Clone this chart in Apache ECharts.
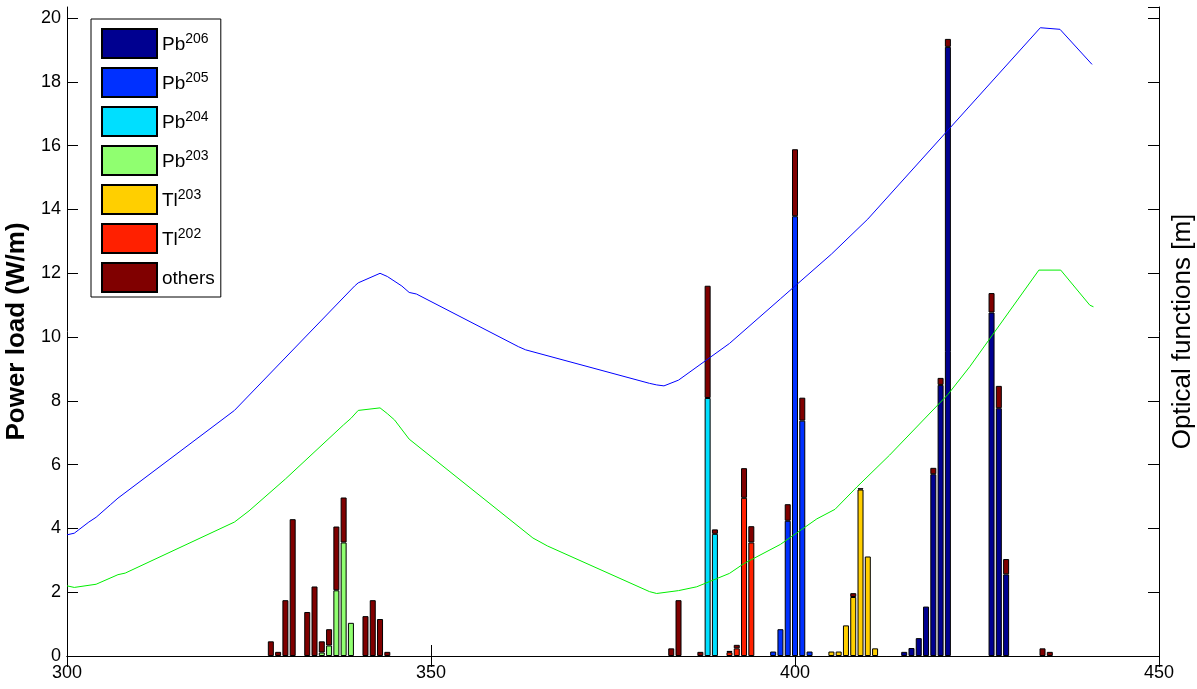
<!DOCTYPE html>
<html>
<head>
<meta charset="utf-8">
<script src="https://cdn.jsdelivr.net/npm/echarts@6/dist/echarts.min.js"></script>
<style>
  html, body { margin: 0; padding: 0; background: #fff; }
  #chart { width: 1197px; height: 689px; }
</style>
</head>
<body>
<div id="chart"></div>
<script>
// power load per isotope, [position (m), W/m]
const pb206 = [[415, 0.13], [416, 0.25], [417, 0.56], [418, 1.55], [419, 5.7], [420, 8.5], [421, 19.1],
  [427, 10.77], [428, 7.77], [429, 2.56]]
const pb205 = [[397, 0.14], [398, 0.84], [399, 4.24], [400, 13.79], [401, 7.38], [402, 0.14]]
const pb204 = [[388, 8.09], [389, 3.83]]
const pb203 = [[335, 0.11], [336, 0.33], [337, 2.06], [338, 3.56], [339, 1.04]]
const tl203 = [[405, 0.14], [406, 0.14], [407, 0.96], [408, 1.85], [409, 5.22], [410, 3.12], [411, 0.24]]
const tl202 = [[391, 0.12], [392, 0.24], [393, 4.96], [394, 3.56]]
const others = [[328, 0.46], [329, 0.13], [330, 1.75], [331, 4.29], [333, 1.38], [334, 2.18], [335, 0.35],
  [336, 0.51], [337, 2.0], [338, 1.41], [341, 1.25], [342, 1.75], [343, 1.16], [344, 0.13],
  [383, 0.24], [384, 1.75], [387, 0.13], [388, 3.52], [389, 0.14], [391, 0.04], [392, 0.11],
  [393, 0.93], [394, 0.51], [399, 0.52], [400, 2.1], [401, 0.72], [408, 0.12], [409, 0.04],
  [419, 0.2], [420, 0.22], [421, 0.25], [427, 0.61], [428, 0.7], [429, 0.48], [434, 0.24], [435, 0.13]]

// optical functions (drawn on the right axis)
const opticsBlue = [[300, 3.8], [301, 3.85], [303, 4.2], [304, 4.35], [306, 4.75], [307, 4.95], [323, 7.7],
  [339.5, 11.6], [340, 11.7], [343, 12.0], [344, 11.9], [346, 11.6], [347, 11.4], [348, 11.35],
  [362, 9.7], [363, 9.6], [380, 8.55], [381, 8.5], [382, 8.47], [384, 8.65], [391, 9.8], [398, 11.2],
  [405, 12.6], [410, 13.7], [433.7, 19.7], [436.4, 19.65], [440.8, 18.55]]
const opticsGreen = [[300, 2.2], [301, 2.15], [304, 2.25], [307, 2.55], [308, 2.6], [323, 4.2], [325, 4.55],
  [330, 5.55], [338, 7.25], [339, 7.45], [340, 7.7], [343, 7.78], [344, 7.6], [345, 7.4], [347, 6.8],
  [364, 3.7], [366, 3.45], [380, 2.02], [381, 1.96], [384, 2.05], [386.5, 2.17], [391, 2.59],
  [393, 2.9], [398, 3.5], [403, 4.3], [405.5, 4.6], [408.5, 5.3], [413, 6.3], [421, 8.2], [424, 9.07],
  [433.5, 12.1], [436.5, 12.1], [440.5, 11.0], [441, 10.95]]

const xMin = 300
const xMax = 450

const barSeries = [
  { name: 'Pb206', data: pb206, color: '#000090' },
  { name: 'Pb205', data: pb205, color: '#0030ff' },
  { name: 'Pb204', data: pb204, color: '#00dfff' },
  { name: 'Pb203', data: pb203, color: '#90ff70' },
  { name: 'Tl203', data: tl203, color: '#ffcf00' },
  { name: 'Tl202', data: tl202, color: '#ff2000' },
  { name: 'others', data: others, color: '#800000' }
]

// one category per metre, so stacked bars line up with the value axis
const slots = []
for (let x = xMin; x <= xMax; x++) slots.push(String(x))

function aligned(pairs) {
  const m = new Map(pairs.map(p => [String(p[0]), p[1]]))
  return slots.map(k => (m.has(k) ? m.get(k) : '-'))
}

const font = "'Liberation Sans', Arial, Helvetica, sans-serif"
const chart = echarts.init(document.getElementById('chart'))

const boxAxis = {
  axisLine: { show: true, lineStyle: { color: '#000', width: 1 } },
  axisTick: { inside: true, length: 11, lineStyle: { color: '#000' } },
  splitLine: { show: false }
}

chart.setOption({
  animation: false,
  textStyle: { fontFamily: font },
  grid: { left: 67, right: 38, top: 7, bottom: 33, outerBoundsMode: 'none' },
  legend: {
    orient: 'vertical',
    left: 91,
    top: 19,
    padding: [9, 6, 4, 10],
    itemWidth: 55,
    itemHeight: 29,
    itemGap: 8,
    icon: 'rect',
    backgroundColor: '#fff',
    borderColor: '#000',
    borderWidth: 1,
    data: barSeries.map(s => s.name),
    formatter: name => {
      const m = name.match(/^([A-Za-z]+)(\d+)$/)
      return m ? '{b|' + m[1] + '}{s|' + m[2] + '}' : '{b|' + name + '}'
    },
    textStyle: {
      rich: {
        b: { fontSize: 19, fontFamily: font, color: '#000', lineHeight: 22, verticalAlign: 'bottom' },
        s: { fontSize: 14, fontFamily: font, color: '#000', lineHeight: 22, verticalAlign: 'top' }
      }
    }
  },
  xAxis: [
    {
      ...boxAxis,
      type: 'value',
      min: xMin,
      max: xMax,
      interval: 50,
      axisLabel: { color: '#000', fontSize: 18, margin: 8 }
    },
    {
      ...boxAxis,
      type: 'value',
      position: 'top',
      min: xMin,
      max: xMax,
      interval: 50,
      axisLabel: { show: false }
    },
    {
      type: 'category',
      data: slots,
      boundaryGap: false,
      show: false
    }
  ],
  yAxis: [
    {
      ...boxAxis,
      type: 'value',
      min: 0,
      max: 20.35,
      interval: 2,
      name: 'Power load (W/m)',
      nameLocation: 'middle',
      nameRotate: 90,
      nameGap: 27,
      nameTextStyle: { fontSize: 26, fontWeight: 'bold', color: '#000' },
      axisLabel: { color: '#000', fontSize: 18, margin: 6, showMaxLabel: false }
    },
    {
      ...boxAxis,
      type: 'value',
      position: 'right',
      min: 0,
      max: 20.35,
      interval: 2,
      name: 'Optical functions [m]',
      nameLocation: 'middle',
      nameRotate: 90,
      nameGap: 11,
      nameTextStyle: { fontSize: 26, color: '#000', verticalAlign: 'top' },
      axisLabel: { show: false }
    }
  ],
  series: [
    ...barSeries.map(s => ({
      name: s.name,
      type: 'bar',
      stack: 'load',
      xAxisIndex: 2,
      yAxisIndex: 0,
      barWidth: 6,
      data: aligned(s.data),
      itemStyle: { color: s.color, borderColor: '#000', borderWidth: 1 }
    })),
    {
      name: 'optics1',
      type: 'line',
      xAxisIndex: 0,
      yAxisIndex: 1,
      data: opticsBlue,
      showSymbol: false,
      lineStyle: { color: '#0000ff', width: 1 },
      itemStyle: { color: '#0000ff' }
    },
    {
      name: 'optics2',
      type: 'line',
      xAxisIndex: 0,
      yAxisIndex: 1,
      data: opticsGreen,
      showSymbol: false,
      lineStyle: { color: '#00ee00', width: 1 },
      itemStyle: { color: '#00ee00' }
    }
  ]
})
</script>
</body>
</html>
